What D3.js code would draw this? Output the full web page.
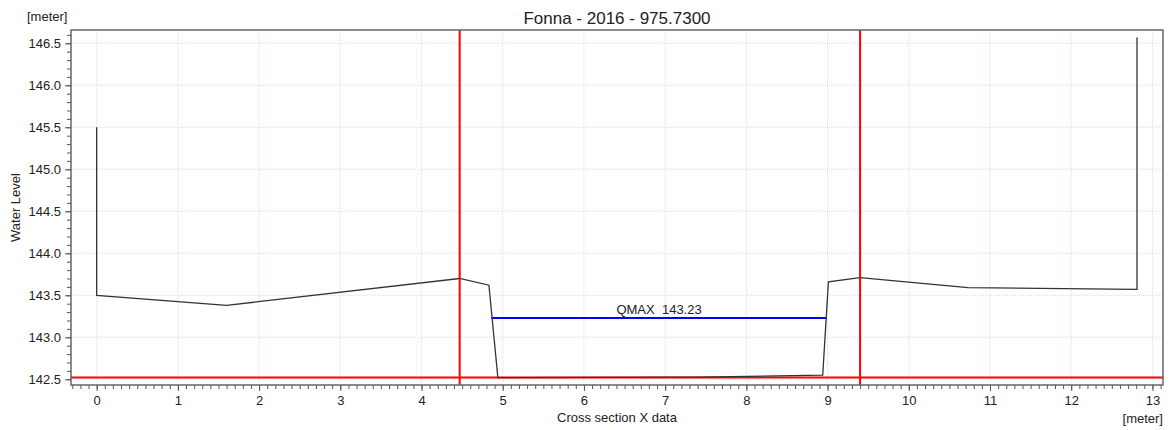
<!DOCTYPE html>
<html>
<head>
<meta charset="utf-8">
<script src="https://cdn.jsdelivr.net/npm/d3@7"></script>
<style>
    body { margin: 0; background: #fff; }
    svg { font-family: "Liberation Sans", Arial, sans-serif; }
</style>
</head>
<body>
<div id="chart"></div>
<script>
// Cross section profile (x in meter, level in meter)
const profileX = [0, 0, 1.6, 4.47, 4.83, 4.94, 7.4, 8.94, 9.01, 9.40, 10.73, 12.81, 12.81];
const profileY = [145.5, 143.5, 143.38, 143.70, 143.62, 142.52, 142.525, 142.55, 143.66, 143.71, 143.59, 143.57, 146.57];

// Markers: bank lines (vertical red) and bottom level (horizontal red)
const bankX = [4.47, 9.40];
const bottomLevel = 142.52;

// QMAX water level
const qmaxLevel = 143.23;
const qmaxX = [4.86, 8.99];
const qmaxLabel = "QMAX  143.23";

const xTicks = d3.range(0, 14);
const yTicks = [142.5, 143.0, 143.5, 144.0, 144.5, 145.0, 145.5, 146.0, 146.5];

const title = "Fonna - 2016 - 975.7300";

function drawChart() {
    const width = 1170;
    const height = 430;
    const margin = { top: 30, right: 7, bottom: 45, left: 71 };

    const svg = d3.select("#chart").append("svg")
        .attr("width", width)
        .attr("height", height);

    const x = d3.scaleLinear()
        .domain([-0.316, 13.13])
        .range([margin.left, width - margin.right]);

    const y = d3.scaleLinear()
        .domain([142.432, 146.658])
        .range([height - margin.bottom, margin.top]);

    const x0 = margin.left, x1 = width - margin.right;
    const y0 = margin.top, y1 = height - margin.bottom;

    // grid
    svg.append("g")
        .selectAll("line")
        .data(xTicks)
        .enter().append("line")
        .attr("x1", d => x(d)).attr("x2", d => x(d))
        .attr("y1", y0).attr("y2", y1)
        .attr("stroke", "#cfe2f7")
        .attr("stroke-dasharray", "1,1");

    svg.append("g")
        .selectAll("line")
        .data(yTicks)
        .enter().append("line")
        .attr("x1", x0).attr("x2", x1)
        .attr("y1", d => y(d)).attr("y2", d => y(d))
        .attr("stroke", "#cfe2f7")
        .attr("stroke-dasharray", "1,1");

    // axes with minor ticks every 0.1
    const xMinor = d3.range(-3, 132).map(d => d / 10);
    const yMinor = d3.range(1425, 1467).map(d => d / 10);

    svg.append("g")
        .attr("transform", `translate(0,${y1})`)
        .call(d3.axisBottom(x).tickValues(xMinor).tickSize(4).tickFormat(""))
        .call(g => g.select(".domain").remove())
        .selectAll("line").attr("stroke", "#555");

    const xAxis = svg.append("g")
        .attr("transform", `translate(0,${y1})`)
        .call(d3.axisBottom(x).tickValues(xTicks).tickSize(6).tickPadding(5).tickFormat(d3.format("d")));
    xAxis.select(".domain").remove();
    xAxis.selectAll("line").attr("stroke", "#555");
    xAxis.selectAll("text").attr("font-size", 13).attr("fill", "#222")
        .attr("font-family", "Liberation Sans, Arial, sans-serif");

    svg.append("g")
        .attr("transform", `translate(${x0},0)`)
        .call(d3.axisLeft(y).tickValues(yMinor).tickSize(4).tickFormat(""))
        .call(g => g.select(".domain").remove())
        .selectAll("line").attr("stroke", "#555");

    const yAxis = svg.append("g")
        .attr("transform", `translate(${x0},0)`)
        .call(d3.axisLeft(y).tickValues(yTicks).tickSize(6).tickPadding(4).tickFormat(d3.format(".1f")));
    yAxis.select(".domain").remove();
    yAxis.selectAll("line").attr("stroke", "#555");
    yAxis.selectAll("text").attr("font-size", 13).attr("fill", "#222")
        .attr("font-family", "Liberation Sans, Arial, sans-serif");

    // horizontal bottom level line
    svg.append("line")
        .attr("x1", x0).attr("x2", x1)
        .attr("y1", y(bottomLevel)).attr("y2", y(bottomLevel))
        .attr("stroke", "#ff0000")
        .attr("stroke-width", 2);

    // QMAX line + label
    svg.append("line")
        .attr("x1", x(qmaxX[0])).attr("x2", x(qmaxX[1]))
        .attr("y1", y(qmaxLevel)).attr("y2", y(qmaxLevel))
        .attr("stroke", "#0000ff")
        .attr("stroke-width", 2);

    svg.append("text")
        .attr("x", x((qmaxX[0] + qmaxX[1]) / 2))
        .attr("y", y(qmaxLevel) - 4)
        .attr("text-anchor", "middle")
        .attr("font-size", 13)
        .attr("fill", "#222")
        .style("white-space", "pre")
        .text(qmaxLabel);

    // profile
    const line = d3.line()
        .x(i => x(profileX[i]))
        .y(i => y(profileY[i]));

    svg.append("path")
        .datum(d3.range(profileX.length))
        .attr("d", line)
        .attr("fill", "none")
        .attr("stroke", "#333")
        .attr("stroke-width", 1.3);

    // vertical bank lines
    svg.append("g")
        .selectAll("line")
        .data(bankX)
        .enter().append("line")
        .attr("x1", d => x(d)).attr("x2", d => x(d))
        .attr("y1", y0).attr("y2", y1)
        .attr("stroke", "#ff0000")
        .attr("stroke-width", 2);

    // frame
    svg.append("rect")
        .attr("x", x0).attr("y", y0)
        .attr("width", x1 - x0).attr("height", y1 - y0)
        .attr("fill", "none")
        .attr("stroke", "#666")
        .attr("stroke-width", 1.5);

    // texts
    svg.append("text")
        .attr("x", (x0 + x1) / 2)
        .attr("y", 24)
        .attr("text-anchor", "middle")
        .attr("font-size", 17)
        .attr("fill", "#222")
        .text(title);

    svg.append("text")
        .attr("x", 27).attr("y", 21)
        .attr("font-size", 13)
        .attr("fill", "#222")
        .text("[meter]");

    svg.append("text")
        .attr("transform", `translate(20,${(y0 + y1) / 2}) rotate(-90)`)
        .attr("text-anchor", "middle")
        .attr("font-size", 13)
        .attr("fill", "#222")
        .text("Water Level");

    svg.append("text")
        .attr("x", (x0 + x1) / 2)
        .attr("y", 422)
        .attr("text-anchor", "middle")
        .attr("font-size", 13)
        .attr("fill", "#222")
        .text("Cross section X data");

    svg.append("text")
        .attr("x", x1).attr("y", 423)
        .attr("text-anchor", "end")
        .attr("font-size", 13)
        .attr("fill", "#222")
        .text("[meter]");
}

drawChart();
</script>
</body>
</html>
